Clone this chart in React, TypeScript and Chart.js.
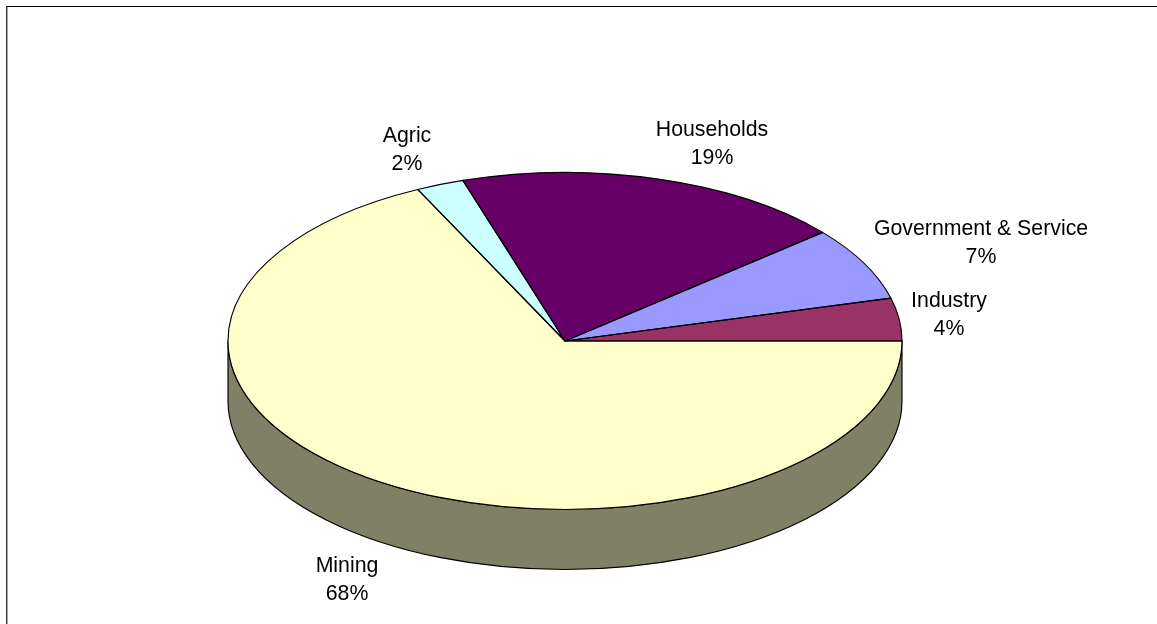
import React, { useEffect, useRef } from "react";
import { Chart, registerables } from "chart.js";

Chart.register(...registerables);

const categories = ["Mining", "Agric", "Households", "Government & Service", "Industry"];
const shares = [67.8, 2.3, 18.75, 7.05, 4.1];
const percentLabels = ["68%", "2%", "19%", "7%", "4%"];
const sliceColors = ["#FFFFCC", "#CCFFFF", "#660066", "#9999FF", "#993366"];
const sideColors = ["#808066", "#668080", "#330033", "#4D4D80", "#4D1A33"];
const labelCentres = [
  { x: 347, y: 566 },
  { x: 407, y: 136 },
  { x: 712, y: 130 },
  { x: 981, y: 229 },
  { x: 949, y: 301 },
];

const SQUASH = 0.5;
const DEPTH = 60;
const LINE_WIDTH = 1.15;

const pie3d = {
  id: "pie3d",
  beforeDatasetsDraw(chart: any) {
    const ctx = chart.ctx;
    const arcs = chart.getDatasetMeta(0).data;
    const { x, y, outerRadius: r } = arcs[0];
    ctx.save();
    ctx.lineWidth = LINE_WIDTH;
    ctx.strokeStyle = "#000";
    ctx.lineJoin = "round";
    arcs.forEach((arc: any, i: number) => {
      const a0 = Math.max(arc.startAngle, 0);
      const a1 = Math.min(arc.endAngle, Math.PI);
      if (a1 <= a0) return;
      ctx.beginPath();
      ctx.ellipse(x, y, r, r * SQUASH, 0, a0, a1);
      ctx.ellipse(x, y + DEPTH, r, r * SQUASH, 0, a1, a0, true);
      ctx.closePath();
      ctx.fillStyle = sideColors[i];
      ctx.fill();
      ctx.stroke();
    });
    ctx.restore();
    ctx.save();
    ctx.translate(x, y);
    ctx.scale(1, SQUASH);
    ctx.translate(-x, -y);
  },
  afterDatasetsDraw(chart: any) {
    const ctx = chart.ctx;
    ctx.restore();
    const arcs = chart.getDatasetMeta(0).data;
    ctx.save();
    ctx.lineWidth = LINE_WIDTH;
    ctx.strokeStyle = "#000";
    ctx.lineJoin = "round";
    arcs.forEach((arc: any) => {
      const { x, y, outerRadius: r, startAngle, endAngle } = arc;
      ctx.beginPath();
      ctx.moveTo(x, y);
      ctx.ellipse(x, y, r, r * SQUASH, 0, startAngle, endAngle);
      ctx.closePath();
      ctx.stroke();
    });
    ctx.font = '21.3px "Liberation Sans"';
    ctx.fillStyle = "#000";
    ctx.textAlign = "center";
    ctx.textBaseline = "middle";
    categories.forEach((name, i) => {
      const c = labelCentres[i];
      ctx.fillText(name, c.x, c.y);
      ctx.fillText(percentLabels[i], c.x, c.y + 28);
    });
    ctx.restore();
  },
};

export default function App() {
  const ref = useRef<HTMLCanvasElement>(null);
  useEffect(() => {
    document.body.style.margin = "0";
    document.body.style.background = "#fff";
    const chart = new Chart(ref.current!, {
      type: "pie",
      data: {
        labels: categories,
        datasets: [
          {
            data: shares,
            backgroundColor: sliceColors,
            borderWidth: 0,
          },
        ],
      },
      options: {
        responsive: false,
        animation: false,
        devicePixelRatio: 1,
        rotation: 90,
        radius: 337,
        layout: { padding: { left: 0, right: 27, top: 58, bottom: 0 } },
        plugins: { legend: { display: false }, tooltip: { enabled: false }, title: { display: false } },
      },
      plugins: [pie3d],
    } as any);
    return () => chart.destroy();
  }, []);
  return (
    <div style={{ position: "relative", width: 1157, height: 624, overflow: "hidden", background: "#fff" }}>
      <div style={{ position: "absolute", left: 6, top: 6, width: 1200, height: 1, background: "#000" }} />
      <div style={{ position: "absolute", left: 6, top: 6, width: 1, height: 700, background: "#333" }} />
      <div style={{ position: "absolute", left: 7, top: 7, width: 1, height: 700, background: "#aaa" }} />
      <canvas ref={ref} width={1157} height={624} style={{ position: "absolute", left: 0, top: 0, display: "block" }} />
    </div>
  );
}
